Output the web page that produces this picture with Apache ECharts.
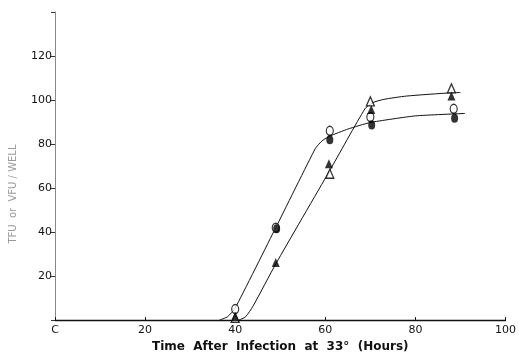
<!DOCTYPE html>
<html>
<head>
<meta charset="utf-8">
<script src="https://cdn.jsdelivr.net/npm/echarts@6/dist/echarts.min.js"></script>
<style>
  html, body { margin: 0; padding: 0; background: #fff; }
  #chart { width: 519px; height: 358px; }
</style>
</head>
<body>
<div id="chart"></div>
<script>
// 读图得到的数据点 (小时, 滴度/孔)
var openCircle = [[40, 5], [49, 42], [61, 86], [70, 92.3], [88.5, 96]];
var filledCircle = [[49.2, 41.5], [61, 81.9], [70.3, 88.6], [88.7, 91.7]];
var openTriangle = [[40, 1], [61, 66.5], [70, 99.4], [88, 105.3]];
var filledTriangle = [[40, 1.5], [49, 26.2], [60.8, 71], [70.2, 95.7], [88, 101.8]];

// 手绘曲线
var circleCurve = [[36.5, 0], [38.3, 1.5], [40, 5.5], [49, 42], [57.8, 78], [59.3, 81.5], [61, 83.6], [65, 86.8], [70, 89.8], [80, 92.8], [91, 93.9]];
var triangleCurve = [[40.8, 0], [42.3, 1.5], [44, 6.5], [49, 25.5], [61, 68], [68.8, 96], [70.5, 98.8], [73, 100.3], [78, 101.8], [88, 103.3], [90, 103.4]];

var xTicks = [0, 20, 40, 60, 80, 100];
var yTicks = [20, 40, 60, 80, 100, 120];

var chart = echarts.init(document.getElementById('chart'));

var tickFont = { color: '#111', fontSize: 11, fontFamily: 'DejaVu Sans' };

var option = {
    animation: false,
    backgroundColor: '#fff',
    grid: { left: 49, right: 9, top: 12, bottom: 31 },
    xAxis: {
        type: 'value',
        min: 0, max: 100, interval: 20,
        axisLine: { lineStyle: { color: '#111', width: 1.3 } },
        axisTick: { inside: true, length: 3, lineStyle: { color: '#111' } },
        splitLine: { show: false },
        axisLabel: Object.assign({}, tickFont, {
            margin: 5,
            formatter: function (v) {
                if (v == 0) return 'C';
                return xTicks.indexOf(v) >= 0 ? String(v) : '';
            }
        }),
        name: 'Time  After  Infection  at  33°  (Hours)',
        nameLocation: 'middle',
        nameGap: 20,
        nameTextStyle: { color: '#111', fontSize: 12, fontWeight: 'bold', fontFamily: 'DejaVu Sans' }
    },
    yAxis: {
        type: 'value',
        min: 0, max: 140, interval: 20,
        axisLine: { lineStyle: { color: '#888', width: 1 } },
        axisTick: { length: 4, lineStyle: { color: '#333' } },
        splitLine: { show: false },
        axisLabel: Object.assign({}, tickFont, {
            margin: 3,
            formatter: function (v) {
                return yTicks.indexOf(v) >= 0 ? String(v) : '';
            }
        }),
        name: 'TFU  or  VFU / WELL',
        nameLocation: 'middle',
        nameGap: 37,
        nameTextStyle: { color: '#999', fontSize: 10, fontFamily: 'DejaVu Sans', padding: [0, 56, 0, 0] }
    },
    series: [
        {
            type: 'line', data: circleCurve, smooth: 0.15, showSymbol: false,
            lineStyle: { color: '#111', width: 1 }, z: 1
        },
        {
            type: 'line', data: triangleCurve, smooth: 0.2, showSymbol: false,
            lineStyle: { color: '#111', width: 1 }, z: 1
        },
        {
            type: 'scatter', data: openCircle, symbol: 'circle', symbolSize: [7, 9],
            itemStyle: { color: '#fff', borderColor: '#000', borderWidth: 1.3 }, z: 3
        },
        {
            type: 'scatter', data: filledCircle, symbol: 'circle', symbolSize: [7, 9],
            itemStyle: { color: '#000' }, z: 4
        },
        {
            type: 'scatter', data: openTriangle, symbol: 'triangle', symbolSize: [8, 9],
            itemStyle: { color: '#fff', borderColor: '#000', borderWidth: 1.3 }, z: 3
        },
        {
            type: 'scatter', data: filledTriangle, symbol: 'triangle', symbolSize: [8, 9],
            itemStyle: { color: '#000' }, z: 4
        }
    ]
};
chart.setOption(option);
</script>
</body>
</html>
